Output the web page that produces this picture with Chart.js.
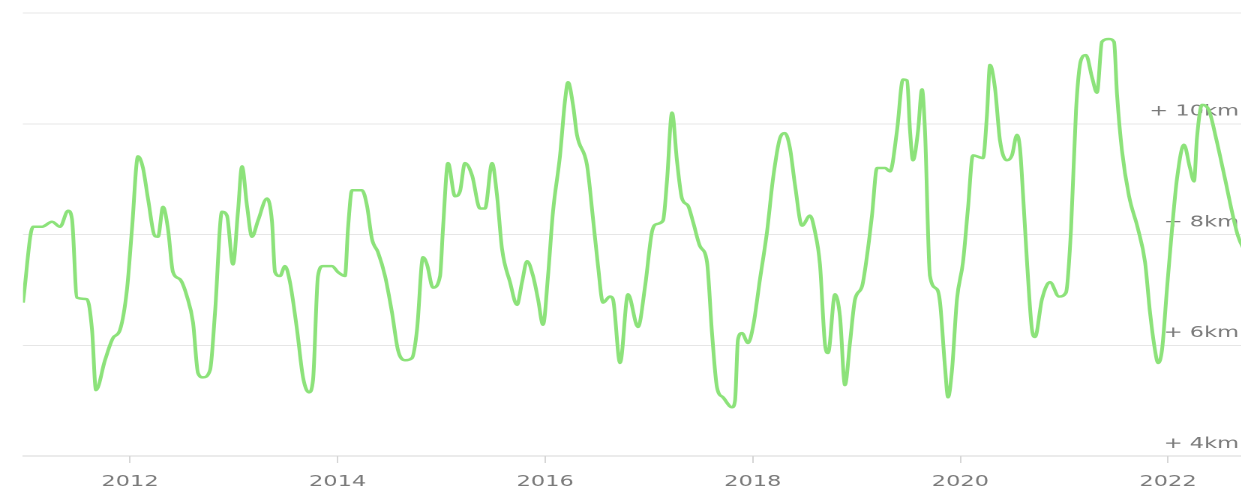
<!DOCTYPE html>
<html>
<head>
<meta charset="utf-8">
<script src="https://cdn.jsdelivr.net/npm/chart.js@4/dist/chart.umd.min.js"></script>
<style>
  html, body { margin: 0; padding: 0; background: #ffffff; overflow: hidden; }
  #c { display: block; width: 1245px; height: 504px; }
</style>
</head>
<body>
<canvas id="c" width="830" height="504" style="width:1245px;height:504px;"></canvas>
<script>
// Decimal years (x) and rolling distance in km (y)
const years = [
  2010.969, 2011.066, 2011.152, 2011.249, 2011.326, 2011.403, 2011.441, 2011.489, 2011.586, 2011.634,
  2011.672, 2011.759, 2011.836, 2011.904, 2011.971, 2012.019, 2012.077, 2012.125, 2012.173, 2012.241,
  2012.270, 2012.318, 2012.366, 2012.414, 2012.482, 2012.549, 2012.607, 2012.655, 2012.703, 2012.771,
  2012.819, 2012.886, 2012.934, 2012.992, 2013.040, 2013.079, 2013.127, 2013.175, 2013.233, 2013.320,
  2013.368, 2013.397, 2013.445, 2013.493, 2013.541, 2013.609, 2013.667, 2013.724, 2013.763, 2013.811,
  2013.859, 2013.946, 2014.004, 2014.071, 2014.100, 2014.139, 2014.235, 2014.283, 2014.331, 2014.389,
  2014.457, 2014.524, 2014.582, 2014.649, 2014.717, 2014.765, 2014.823, 2014.861, 2014.919, 2014.987,
  2015.015, 2015.064, 2015.131, 2015.179, 2015.227, 2015.295, 2015.372, 2015.420, 2015.488, 2015.536,
  2015.584, 2015.661, 2015.728, 2015.777, 2015.825, 2015.883, 2015.931, 2015.979, 2016.027, 2016.075,
  2016.143, 2016.191, 2016.220, 2016.268, 2016.306, 2016.403, 2016.461, 2016.509, 2016.557, 2016.624,
  2016.653, 2016.721, 2016.798, 2016.894, 2016.962, 2017.029, 2017.077, 2017.135, 2017.173, 2017.222,
  2017.270, 2017.318, 2017.376, 2017.424, 2017.491, 2017.559, 2017.607, 2017.655, 2017.713, 2017.800,
  2017.829, 2017.857, 2017.896, 2017.954, 2018.002, 2018.069, 2018.137, 2018.195, 2018.262, 2018.310,
  2018.358, 2018.407, 2018.474, 2018.551, 2018.599, 2018.647, 2018.696, 2018.725, 2018.792, 2018.840,
  2018.888, 2018.936, 2018.985, 2019.052, 2019.100, 2019.148, 2019.197, 2019.274, 2019.322, 2019.389,
  2019.447, 2019.486, 2019.515, 2019.543, 2019.592, 2019.630, 2019.659, 2019.707, 2019.775, 2019.804,
  2019.852, 2019.881, 2019.919, 2019.967, 2020.025, 2020.073, 2020.121, 2020.218, 2020.256, 2020.285,
  2020.333, 2020.382, 2020.449, 2020.497, 2020.545, 2020.574, 2020.603, 2020.642, 2020.690, 2020.719,
  2020.786, 2020.863, 2020.950, 2021.017, 2021.066, 2021.114, 2021.162, 2021.210, 2021.268, 2021.316,
  2021.364, 2021.432, 2021.480, 2021.509, 2021.557, 2021.624, 2021.711, 2021.779, 2021.827, 2021.875,
  2021.904, 2021.942, 2021.990, 2022.039, 2022.087, 2022.154, 2022.212, 2022.251, 2022.279, 2022.328,
  2022.395, 2022.463, 2022.549, 2022.617, 2022.675, 2022.752
];
const distanceKm = [
  6.77, 8.14, 8.14, 8.23, 8.14, 8.43, 8.28, 6.86, 6.83, 6.28,
  5.19, 5.73, 6.13, 6.28, 7.01, 8.10, 9.41, 9.20, 8.65, 7.97,
  7.96, 8.50, 8.10, 7.32, 7.19, 6.88, 6.41, 5.50, 5.42, 5.55,
  6.59, 8.41, 8.34, 7.46, 8.41, 9.23, 8.52, 7.96, 8.25, 8.65,
  8.23, 7.32, 7.25, 7.43, 7.14, 6.28, 5.42, 5.15, 5.37, 7.25,
  7.43, 7.43, 7.32, 7.25, 8.10, 8.80, 8.80, 8.52, 7.92, 7.68,
  7.25, 6.59, 5.91, 5.73, 5.77, 6.28, 7.59, 7.46, 7.04, 7.25,
  8.10, 9.29, 8.69, 8.78, 9.29, 9.07, 8.47, 8.47, 9.29, 8.70,
  7.74, 7.14, 6.73, 7.14, 7.52, 7.25, 6.83, 6.37, 7.25, 8.41,
  9.43, 10.42, 10.75, 10.34, 9.80, 9.25, 8.28, 7.43, 6.77, 6.88,
  6.83, 5.68, 6.92, 6.33, 7.06, 8.05, 8.19, 8.25, 8.96, 10.20,
  9.32, 8.65, 8.52, 8.23, 7.79, 7.50, 6.22, 5.24, 5.06, 4.88,
  5.00, 6.10, 6.22, 6.04, 6.33, 7.19, 8.05, 9.01, 9.74, 9.83,
  9.56, 8.89, 8.16, 8.34, 8.05, 7.46, 6.01, 5.86, 6.92, 6.52,
  5.28, 6.04, 6.83, 7.06, 7.61, 8.34, 9.20, 9.20, 9.14, 9.87,
  10.80, 10.78, 9.87, 9.34, 9.87, 10.62, 9.87, 7.25, 7.01, 6.77,
  5.60, 5.06, 5.55, 6.83, 7.50, 8.47, 9.43, 9.38, 10.16, 11.06,
  10.65, 9.69, 9.34, 9.43, 9.80, 9.56, 8.74, 7.50, 6.28, 6.15,
  6.83, 7.14, 6.88, 6.95, 8.10, 10.24, 11.15, 11.24, 10.84, 10.56,
  11.48, 11.53, 11.48, 10.53, 9.51, 8.70, 8.10, 7.50, 6.59, 5.91,
  5.68, 5.91, 7.01, 8.10, 9.01, 9.62, 9.20, 8.96, 9.74, 10.34,
  10.24, 9.74, 9.01, 8.41, 7.97, 7.65
];
const yTicksKm = [4, 6, 8, 10, 12];
const xTickYears = [2012, 2014, 2016, 2018, 2020, 2022];

const points = years.map((y, i) => ({ x: y, y: distanceKm[i] }));
const labelFont = { family: 'DejaVu Sans', size: 15 };

new Chart(document.getElementById('c'), {
  type: 'line',
  data: {
    datasets: [{
      data: points,
      borderColor: 'rgb(140, 226, 122)',
      borderWidth: 2.5,
      pointRadius: 0,
      fill: false,
      cubicInterpolationMode: 'monotone',
      tension: 0.4
    }]
  },
  options: {
    responsive: false,
    devicePixelRatio: 2,
    animation: false,
    events: [],
    layout: { padding: { left: 15.33, right: 0, top: 13, bottom: 3 } },
    plugins: { legend: { display: false }, tooltip: { enabled: false } },
    scales: {
      x: {
        type: 'linear',
        min: 2010.969,
        max: 2022.742,
        afterBuildTicks: (s) => { s.ticks = xTickYears.map(v => ({ value: v })); },
        ticks: {
          stepSize: 2,
          includeBounds: false,
          autoSkip: false,
          maxRotation: 0,
          padding: 10,
          color: '#7a7a7a',
          font: labelFont,
          callback: (v) => String(v)
        },
        grid: { drawOnChartArea: false, drawTicks: true, tickLength: 7, color: '#d6d6d6' },
        border: { display: true, color: '#d6d6d6' }
      },
      y: {
        type: 'linear',
        position: 'right',
        min: 4,
        max: 12,
        afterBuildTicks: (s) => { s.ticks = yTicksKm.map(v => ({ value: v })); },
        afterFit: (s) => { s.width = 0; },
        ticks: {
          mirror: true,
          padding: -4,
          labelOffset: -12,
          color: '#7a7a7a',
          font: labelFont,
          callback: (v) => (v === 12 ? '' : '+ ' + v + 'km')
        },
        grid: { drawTicks: false, color: '#e6e6e6' },
        border: { display: false }
      }
    }
  }
});
</script>
</body>
</html>
